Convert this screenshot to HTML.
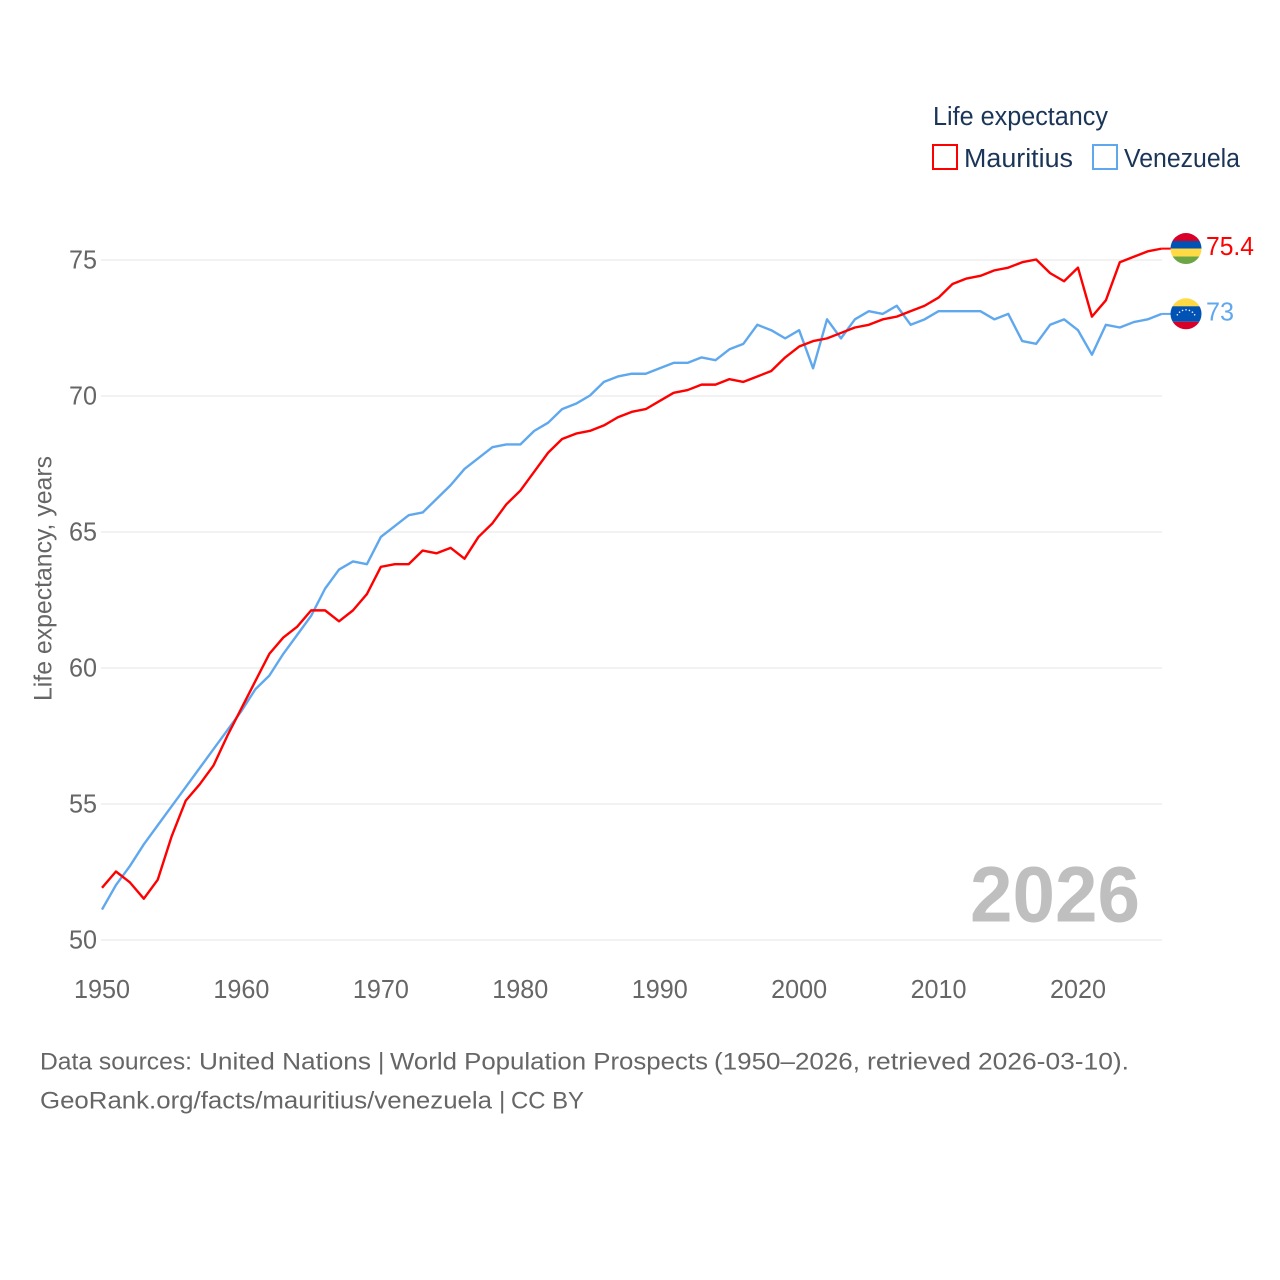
<!DOCTYPE html>
<html lang="en">
<head>
<meta charset="utf-8">
<title>Life expectancy: Mauritius and Venezuela</title>
<style>
html,body{margin:0;padding:0;background:#fff;width:1280px;height:1280px;overflow:hidden}
svg{display:block;font-family:"Liberation Sans",sans-serif}
</style>
</head>
<body>
<svg id="chart" width="1280" height="1280" viewBox="0 0 1280 1280" xmlns="http://www.w3.org/2000/svg">
  <defs>
    <clipPath id="flag-clip"><circle cx="0" cy="0" r="15.5"/></clipPath>
  </defs>
  <g id="grid"></g>
  <g id="y-ticks"></g>
  <g id="x-ticks"></g>
  <text transform="translate(51.500 701) rotate(-90)" font-size="25" fill="#666" textLength="245" lengthAdjust="spacingAndGlyphs">Life expectancy, years</text>
  <text x="970" y="921.500" font-size="79" font-weight="700" fill="#bfbfbf" textLength="170" lengthAdjust="spacingAndGlyphs">2026</text>
  <g id="series"></g>
  <g id="end-marks"></g>

  <g>
    <text x="933" y="125" font-size="25.500" fill="#1a3557" textLength="175" lengthAdjust="spacingAndGlyphs">Life expectancy</text>
    <rect x="933" y="145" width="24" height="24" fill="none" stroke="#ff0000" stroke-width="2"/>
    <text x="964" y="167" font-size="25.500" fill="#1a3557" textLength="109" lengthAdjust="spacingAndGlyphs">Mauritius</text>
    <rect x="1093" y="145" width="24" height="24" fill="none" stroke="#60a8ee" stroke-width="2"/>
    <text x="1124" y="167" font-size="25.500" fill="#1a3557" textLength="116" lengthAdjust="spacingAndGlyphs">Venezuela</text>
  </g>

  <g font-size="24.500" fill="#666">
    <text y="1069.500" lengthAdjust="spacingAndGlyphs"><tspan x="40" textLength="152" lengthAdjust="spacingAndGlyphs">Data sources:</tspan> <tspan x="199" textLength="172" lengthAdjust="spacingAndGlyphs">United Nations</tspan> <tspan x="378">|</tspan> <tspan x="390" textLength="318" lengthAdjust="spacingAndGlyphs">World Population Prospects</tspan> <tspan x="714" textLength="146" lengthAdjust="spacingAndGlyphs">(1950–2026,</tspan> <tspan x="867" textLength="104" lengthAdjust="spacingAndGlyphs">retrieved</tspan> <tspan x="978" textLength="151" lengthAdjust="spacingAndGlyphs">2026-03-10).</tspan></text>
    <text y="1108.500"><tspan x="40" textLength="452" lengthAdjust="spacingAndGlyphs">GeoRank.org/facts/mauritius/venezuela</tspan> <tspan x="499">|</tspan> <tspan x="511" textLength="73" lengthAdjust="spacingAndGlyphs">CC BY</tspan></text>
  </g>
</svg>
<script>
const years = [1950,1951,1952,1953,1954,1955,1956,1957,1958,1959,1960,1961,1962,1963,1964,1965,1966,1967,1968,1969,1970,1971,1972,1973,1974,1975,1976,1977,1978,1979,1980,1981,1982,1983,1984,1985,1986,1987,1988,1989,1990,1991,1992,1993,1994,1995,1996,1997,1998,1999,2000,2001,2002,2003,2004,2005,2006,2007,2008,2009,2010,2011,2012,2013,2014,2015,2016,2017,2018,2019,2020,2021,2022,2023,2024,2025,2026];
const mauritius = [51.9,52.5,52.1,51.5,52.2,53.8,55.1,55.7,56.4,57.5,58.5,59.5,60.5,61.1,61.5,62.1,62.1,61.7,62.1,62.7,63.7,63.8,63.8,64.3,64.2,64.4,64.0,64.8,65.3,66.0,66.5,67.2,67.9,68.4,68.6,68.7,68.9,69.2,69.4,69.5,69.8,70.1,70.2,70.4,70.4,70.6,70.5,70.7,70.9,71.4,71.8,72.0,72.1,72.3,72.5,72.6,72.8,72.9,73.1,73.3,73.6,74.1,74.3,74.4,74.6,74.7,74.9,75.0,74.5,74.2,74.7,72.9,73.5,74.9,75.1,75.3,75.4];
const venezuela = [51.1,52.0,52.7,53.5,54.2,54.9,55.6,56.3,57.0,57.7,58.4,59.2,59.7,60.5,61.2,61.9,62.9,63.6,63.9,63.8,64.8,65.2,65.6,65.7,66.2,66.7,67.3,67.7,68.1,68.2,68.2,68.7,69.0,69.5,69.7,70.0,70.5,70.7,70.8,70.8,71.0,71.2,71.2,71.4,71.3,71.7,71.9,72.6,72.4,72.1,72.4,71.0,72.8,72.1,72.8,73.1,73.0,73.3,72.6,72.8,73.1,73.1,73.1,73.1,72.8,73.0,72.0,71.9,72.6,72.8,72.4,71.5,72.6,72.5,72.7,72.8,73.0];
const yTickValues = [50,55,60,65,70,75];
const xTickValues = [1950,1960,1970,1980,1990,2000,2010,2020];

const SVG_NS = 'http://www.w3.org/2000/svg';
const xScale = function (year) { return 102 + (year - 1950) * (1078 - 102) / 70; };
const yScale = function (value) { return 940 - (value - 50) * (940 - 260) / 25; };

const make = function (tag, attrs, parent) {
  const el = document.createElementNS(SVG_NS, tag);
  Object.keys(attrs).forEach(function (k) { el.setAttribute(k, attrs[k]); });
  parent.appendChild(el);
  return el;
};

const gridGroup = document.getElementById('grid');
const yGroup = document.getElementById('y-ticks');
yTickValues.forEach(function (v) {
  const line = make('line', {x1: 101, x2: 1162, y1: yScale(v), y2: yScale(v), stroke: '#eeeeee', 'stroke-width': 1.6}, gridGroup);
  
  
  const label = make('text', {x: 69, y: yScale(v) + 8.3, 'font-size': 26, fill: '#666', textLength: 28, lengthAdjust: 'spacingAndGlyphs'}, yGroup);
  label.textContent = v;
  
  
});

const xGroup = document.getElementById('x-ticks');
xTickValues.forEach(function (t) {
  const label = make('text', {x: xScale(t) - 28, y: 998, 'font-size': 26, fill: '#666', textLength: 56, lengthAdjust: 'spacingAndGlyphs'}, xGroup);
  label.textContent = t;
  
  
});

const seriesGroup = document.getElementById('series');
const pathFor = function (values) {
  return values.map(function (v, i) {
    return (i ? 'L' : 'M') + xScale(years[i]).toFixed(2) + ' ' + (yScale(v) - 0.5).toFixed(2);
  }).join(' ');
};

const blueLine = make('path', {d: pathFor(venezuela), fill: 'none', stroke: '#60a8ee', 'stroke-width': 2.4, 'stroke-linejoin': 'round'}, seriesGroup);


const redLine = make('path', {d: pathFor(mauritius), fill: 'none', stroke: '#ff0000', 'stroke-width': 2.4, 'stroke-linejoin': 'round'}, seriesGroup);



const endGroup = document.getElementById('end-marks');
const lastYear = years[years.length - 1];
const lastRed = mauritius[mauritius.length - 1];
const lastBlue = venezuela[venezuela.length - 1];

const redLeader = make('line', {x1: xScale(lastYear), x2: 1172, y1: yScale(lastRed) - 0.5, y2: yScale(lastRed) - 0.5, stroke: '#ff0000', 'stroke-width': 2}, endGroup);


const blueLeader = make('line', {x1: xScale(lastYear), x2: 1172, y1: yScale(lastBlue) - 0.5, y2: yScale(lastBlue) - 0.5, stroke: '#60a8ee', 'stroke-width': 2}, endGroup);



const flagRed = make('g', {transform: 'translate(1186 ' + (yScale(lastRed) - 0.6).toFixed(2) + ')', 'clip-path': 'url(#flag-clip)'}, endGroup);


make('rect', {x: -16, y: -16, width: 32, height: 9, fill: '#d80027'}, flagRed);
make('rect', {x: -16, y: -7.5, width: 32, height: 8, fill: '#0052b4'}, flagRed);
make('rect', {x: -16, y: 0, width: 32, height: 8, fill: '#ffda44'}, flagRed);
make('rect', {x: -16, y: 8, width: 32, height: 8, fill: '#6da544'}, flagRed);

const flagBlue = make('g', {transform: 'translate(1186 ' + (yScale(lastBlue) - 0.6).toFixed(2) + ')', 'clip-path': 'url(#flag-clip)'}, endGroup);


make('rect', {x: -16, y: -16, width: 32, height: 9, fill: '#ffda44'}, flagBlue);
make('rect', {x: -16, y: -7.5, width: 32, height: 15.5, fill: '#0052b4'}, flagBlue);
make('rect', {x: -16, y: 8, width: 32, height: 8, fill: '#d80027'}, flagBlue);
[-150,-130,-110,-90,-70,-50,-30].forEach(function (deg) {
  const a = deg * Math.PI / 180;
  make('circle', {cx: 10 * Math.cos(a), cy: 6 + 10 * Math.sin(a), r: 0.8, fill: '#f0f0f0'}, flagBlue);
});

const redValue = make('text', {x: 1206, y: yScale(lastRed) + 6, 'font-size': 26, fill: '#ff0000', textLength: 48, lengthAdjust: 'spacingAndGlyphs'}, endGroup);
redValue.textContent = lastRed;


const blueValue = make('text', {x: 1206, y: yScale(lastBlue) + 6, 'font-size': 26, fill: '#60a8ee', textLength: 28, lengthAdjust: 'spacingAndGlyphs'}, endGroup);
blueValue.textContent = lastBlue;


</script>
</body>
</html>
